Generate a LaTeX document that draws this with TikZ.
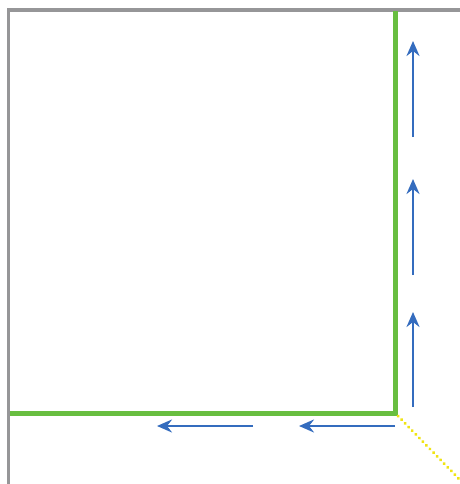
\documentclass[tikz,border=0pt]{standalone}
\usetikzlibrary{arrows.meta}
\definecolor{framegray}{RGB}{150,150,152}
\definecolor{wallgreen}{RGB}{104,190,64}
\definecolor{flowblue}{RGB}{52,108,190}
\definecolor{diagyellow}{RGB}{240,228,20}
\tikzset{
  frameline/.style={draw=framegray,line width=3.2pt},
  wall/.style={draw=wallgreen,line width=5pt},
  flow/.style={draw=flowblue,line width=2.8pt,-{Stealth[length=15pt,width=13pt,inset=5pt]}},
  diag/.style={draw=diagyellow,line width=3.4pt,line cap=round,dash pattern=on 0.1pt off 5pt},
}
\begin{document}
\begin{tikzpicture}[x=1pt,y=-1pt]
\useasboundingbox (0,0) rectangle (459,484);
% frame
\coordinate (ftr) at (460,10);
\coordinate (ftl) at (8.5,10);
\coordinate (fbl) at (8.5,485);
\draw[frameline] (ftr) -- (ftl) -- (fbl);
% green walls
\coordinate (gtop) at (395,11.5);
\coordinate (gcorner) at (395,413);
\coordinate (gleft) at (10,413);
\draw[wall,line join=miter] (gtop) -- (gcorner) -- (gleft);
% yellow diagonal
\coordinate (ystart) at (398,416);
\coordinate (yend) at (462,482);
\draw[diag] (ystart) -- (yend);
% upward arrows
\coordinate (u1s) at (413,137); \coordinate (u1e) at (413,41);
\coordinate (u2s) at (413,275); \coordinate (u2e) at (413,179);
\coordinate (u3s) at (413,407); \coordinate (u3e) at (413,312);
\draw[flow] (u1s) -- (u1e);
\draw[flow] (u2s) -- (u2e);
\draw[flow] (u3s) -- (u3e);
% leftward arrows
\coordinate (l1s) at (395,426); \coordinate (l1e) at (299,426);
\coordinate (l2s) at (253,426); \coordinate (l2e) at (157,426);
\draw[flow] (l1s) -- (l1e);
\draw[flow] (l2s) -- (l2e);
\end{tikzpicture}
\end{document}
